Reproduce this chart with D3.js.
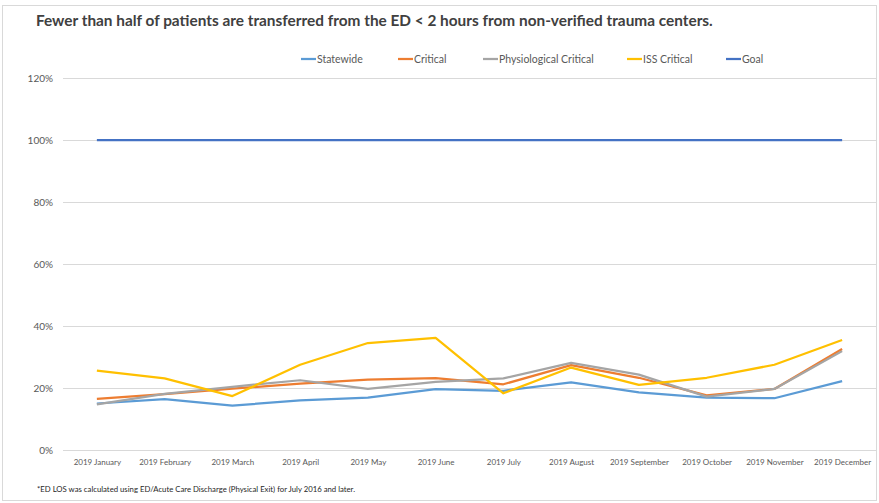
<!DOCTYPE html>
<html>
<head>
<meta charset="utf-8">
<script src="https://cdn.jsdelivr.net/npm/d3@7"></script>
<style>
  body { margin: 0; background: #fff; }
  svg text { font-family: Lato, "Open Sans", sans-serif; }
</style>
</head>
<body>
<div id="chart"></div>
<script>
const months = ["2019 January", "2019 February", "2019 March", "2019 April", "2019 May", "2019 June",
  "2019 July", "2019 August", "2019 September", "2019 October", "2019 November", "2019 December"];
const statewide = [15.0, 16.4, 14.3, 16.0, 16.9, 19.6, 19.1, 21.8, 18.6, 16.9, 16.7, 22.2];
const critical = [16.5, 18.0, 19.8, 21.4, 22.7, 23.2, 21.2, 27.4, 23.3, 17.6, 19.7, 32.6];
const physiological = [14.7, 18.1, 20.4, 22.5, 19.7, 22.0, 23.1, 28.1, 24.3, 17.2, 19.7, 31.9];
const issCritical = [25.6, 23.1, 17.4, 27.5, 34.5, 36.2, 18.3, 26.6, 21.0, 23.3, 27.5, 35.5];
const goal = [100, 100, 100, 100, 100, 100, 100, 100, 100, 100, 100, 100];
const yTicks = [0, 20, 40, 60, 80, 100, 120];

const series = [
  { name: "Statewide", values: statewide, color: "#5B9BD5" },
  { name: "Critical", values: critical, color: "#ED7D31" },
  { name: "Physiological Critical", values: physiological, color: "#A5A5A5" },
  { name: "ISS Critical", values: issCritical, color: "#FFC000" },
  { name: "Goal", values: goal, color: "#4472C4" }
];

const width = 879, height = 503;
const marginLeft = 63, marginRight = 3, marginTop = 78, marginBottom = 53;

const svg = d3.select("#chart").append("svg")
  .attr("width", width)
  .attr("height", height);

// outer frame
svg.append("rect")
  .attr("x", 2.5).attr("y", 5.5)
  .attr("width", 874).attr("height", 495)
  .attr("fill", "none")
  .attr("stroke", "#d9d9d9");

const x = d3.scalePoint()
  .domain(months)
  .range([marginLeft, width - marginRight])
  .padding(0.5);

const y = d3.scaleLinear()
  .domain([0, 120])
  .range([height - marginBottom, marginTop]);

// gridlines
svg.append("g")
  .selectAll("line")
  .data(yTicks)
  .join("line")
  .attr("x1", marginLeft)
  .attr("x2", width - marginRight)
  .attr("y1", d => Math.round(y(d)) + 0.5)
  .attr("y2", d => Math.round(y(d)) + 0.5)
  .attr("stroke", "#d9d9d9")
  .attr("stroke-width", 1);

// y labels
svg.append("g")
  .attr("transform", `translate(${marginLeft - 10},0)`)
  .call(d3.axisLeft(y).tickValues(yTicks).tickFormat(d => d + "%").tickSize(0))
  .call(g => g.select(".domain").remove())
  .call(g => g.selectAll("text")
    .attr("fill", "#595959")
    .style("font-size", "10px")
    .attr("x", 0));

// x labels
svg.append("g")
  .attr("transform", `translate(0,${height - marginBottom})`)
  .call(d3.axisBottom(x).tickSize(0))
  .call(g => g.select(".domain").remove())
  .call(g => g.selectAll("text")
    .attr("fill", "#595959")
    .style("font-size", "8px")
    .attr("dy", "1.1em")
    .attr("y", 6));

// lines
const line = d3.line()
  .x((d, i) => x(months[i]))
  .y(d => y(d));

svg.append("g")
  .selectAll("path")
  .data(series)
  .join("path")
  .attr("fill", "none")
  .attr("stroke", d => d.color)
  .attr("stroke-width", 2.25)
  .attr("stroke-linejoin", "round")
  .attr("d", d => line(d.values));

// legend
const legendX = [301, 398, 483, 627, 726];
const legend = svg.append("g")
  .selectAll("g")
  .data(series)
  .join("g")
  .attr("transform", (d, i) => `translate(${legendX[i]},59)`);
legend.append("line")
  .attr("x1", 0).attr("x2", 15)
  .attr("stroke", d => d.color)
  .attr("stroke-width", 2.25);
legend.append("text")
  .attr("x", 16)
  .attr("dy", "0.35em")
  .attr("fill", "#595959")
  .style("font-size", "10.5px")
  .text(d => d.name);

// title
const title = svg.append("text")
  .attr("x", 36)
  .attr("y", 26)
  .attr("fill", "#404040")
  .style("font-size", "16px")
  .style("font-weight", "bold")
  .text("Fewer than half of patients are transferred from the ED < 2 hours from non-verified trauma centers.");
fitText(title, 677);

// footnote
const note = svg.append("text")
  .attr("x", 37)
  .attr("y", 492)
  .attr("fill", "#262626")
  .style("font-size", "8px")
  .text("*ED LOS was calculated using ED/Acute Care Discharge (Physical Exit) for July 2016 and later.");
fitText(note, 318);

function fitText(sel, target) {
  const w = sel.node().getComputedTextLength();
  const fs = parseFloat(sel.style("font-size"));
  sel.style("font-size", (fs * target / w) + "px");
}
</script>
</body>
</html>
